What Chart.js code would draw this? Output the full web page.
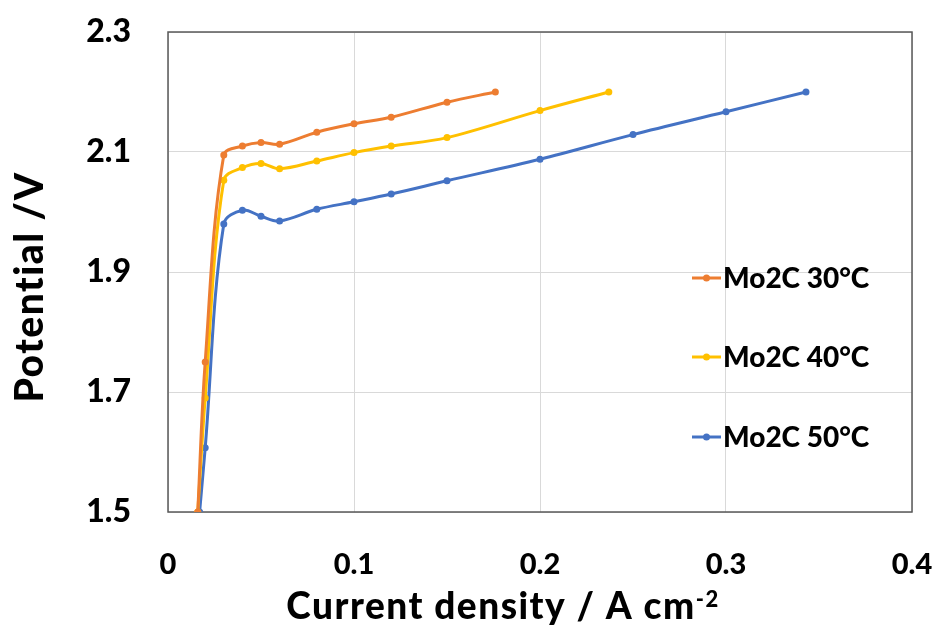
<!DOCTYPE html>
<html>
<head>
<meta charset="utf-8">
<script src="https://cdn.jsdelivr.net/npm/chart.js@4.4.1/dist/chart.umd.min.js"></script>
<style>
  html, body { margin: 0; padding: 0; background: #fff; }
  #wrap { width: 940px; height: 627px; }
</style>
</head>
<body>
<div id="wrap"><canvas id="c" width="940" height="627"></canvas></div>
<script>
// Polarisation curves: current density (A cm-2) vs cell potential (V)
const seriesLabels = ['Mo2C 30°C', 'Mo2C 40°C', 'Mo2C 50°C'];
const seriesColors = ['#ED7D31', '#FFC000', '#4472C4'];

const j30 = [0.016, 0.02, 0.03, 0.04, 0.05, 0.06, 0.08, 0.10, 0.12, 0.15, 0.176];
const v30 = [1.50, 1.75, 2.095, 2.11, 2.116, 2.113, 2.133, 2.147, 2.158, 2.183, 2.20];

const j40 = [0.016, 0.02, 0.03, 0.04, 0.05, 0.06, 0.08, 0.10, 0.12, 0.15, 0.20, 0.237];
const v40 = [1.50, 1.69, 2.053, 2.074, 2.081, 2.072, 2.085, 2.099, 2.11, 2.124, 2.169, 2.20];

const j50 = [0.017, 0.02, 0.03, 0.04, 0.05, 0.06, 0.08, 0.10, 0.12, 0.15, 0.20, 0.25, 0.30, 0.343];
const v50 = [1.50, 1.607, 1.98, 2.003, 1.993, 1.985, 2.0045, 2.017, 2.03, 2.052, 2.088, 2.129, 2.167, 2.20];

const xTicks = [0, 0.1, 0.2, 0.3, 0.4];
const yTicks = [1.5, 1.7, 1.9, 2.1, 2.3];

const xTitle = 'Current density / A cm';
const xTitleSup = '-2';
const yTitle = 'Potential /V';

function pts(xs, ys) { return xs.map((x, i) => ({ x: x, y: ys[i] })); }
const seriesData = [pts(j30, v30), pts(j40, v40), pts(j50, v50)];

const FONT = 'Lato, "Open Sans", "Liberation Sans", sans-serif';
const W = '900';

// Dark frame around the plot area
const framePlugin = {
  id: 'frame',
  beforeDatasetsDraw(chart) {
    const a = chart.chartArea, ctx = chart.ctx;
    ctx.save();
    ctx.strokeStyle = '#595959';
    ctx.lineWidth = 1.5;
    ctx.strokeRect(a.left, a.top, a.right - a.left, a.bottom - a.top);
    ctx.restore();
  }
};

// Axis titles (x title carries a superscript exponent)
const axisTitles = {
  id: 'axisTitles',
  afterDraw(chart) {
    const ctx = chart.ctx;
    ctx.save();
    ctx.fillStyle = '#000';
    ctx.textBaseline = 'alphabetic';
    ctx.textAlign = 'left';
    ctx.letterSpacing = '1.5px';
    const mainFont = W + ' 37px ' + FONT;
    const supFont = W + ' 22px ' + FONT;
    ctx.font = mainFont;
    const wMain = ctx.measureText(xTitle).width;
    ctx.font = supFont;
    const wSup = ctx.measureText(xTitleSup).width;
    const x0 = 503 - (wMain + wSup) / 2;
    ctx.font = mainFont;
    ctx.fillText(xTitle, x0, 619);
    ctx.font = supFont;
    ctx.fillText(xTitleSup, x0 + wMain, 607);

    ctx.translate(43, 287);
    ctx.rotate(-Math.PI / 2);
    ctx.textAlign = 'center';
    ctx.font = W + ' 39px ' + FONT;
    ctx.fillText(yTitle, 0, 0);
    ctx.restore();
  }
};

// Legend drawn inside the plot, one entry per row
const insideLegend = {
  id: 'insideLegend',
  afterDraw(chart) {
    const ctx = chart.ctx;
    const rows = [278, 357, 437];
    ctx.save();
    chart.data.datasets.forEach((ds, i) => {
      const y = rows[i];
      ctx.strokeStyle = ds.borderColor;
      ctx.lineWidth = 3;
      ctx.beginPath();
      ctx.moveTo(692, y);
      ctx.lineTo(721, y);
      ctx.stroke();
      ctx.fillStyle = ds.borderColor;
      ctx.beginPath();
      ctx.arc(706.5, y, 3.5, 0, Math.PI * 2);
      ctx.fill();
      ctx.fillStyle = '#000';
      ctx.font = W + ' 28px ' + FONT;
      ctx.textAlign = 'left';
      ctx.textBaseline = 'middle';
      ctx.fillText(ds.label, 723, y + 1);
    });
    ctx.restore();
  }
};

new Chart(document.getElementById('c'), {
  type: 'line',
  data: {
    datasets: seriesData.map((d, i) => ({
      label: seriesLabels[i],
      data: d,
      borderColor: seriesColors[i],
      backgroundColor: seriesColors[i],
      borderWidth: 3,
      pointRadius: 3.5,
      pointHoverRadius: 3.5,
      pointBorderWidth: 0,
      tension: 0.35,
      fill: false
    }))
  },
  options: {
    responsive: false,
    animation: false,
    layout: { padding: { top: 32, right: 28, left: 0, bottom: 0 } },
    plugins: {
      legend: { display: false },
      tooltip: { enabled: false }
    },
    scales: {
      x: {
        type: 'linear',
        min: xTicks[0],
        max: xTicks[xTicks.length - 1],
        afterBuildTicks(s) { s.ticks = xTicks.map(v => ({ value: v })); },
        afterFit(s) { s.height = 115; s.paddingLeft = 0; s.paddingRight = 0; },
        grid: { color: '#D9D9D9', lineWidth: 1, drawTicks: false },
        border: { display: false },
        ticks: {
          padding: 35,
          color: '#000',
          font: { family: FONT, size: 29, weight: W },
          callback: v => (v === 0 ? '0' : v.toFixed(1))
        },
        title: { display: false }
      },
      y: {
        type: 'linear',
        min: yTicks[0],
        max: yTicks[yTicks.length - 1],
        afterBuildTicks(s) { s.ticks = yTicks.map(v => ({ value: v })); },
        afterFit(s) { s.width = 168; s.paddingTop = 0; s.paddingBottom = 0; },
        grid: { color: '#D9D9D9', lineWidth: 1, drawTicks: false },
        border: { display: false },
        ticks: {
          padding: 37,
          color: '#000',
          font: { family: FONT, size: 32, weight: W },
          callback: v => v.toFixed(1)
        },
        title: { display: false }
      }
    }
  },
  plugins: [framePlugin, axisTitles, insideLegend]
});
</script>
</body>
</html>
